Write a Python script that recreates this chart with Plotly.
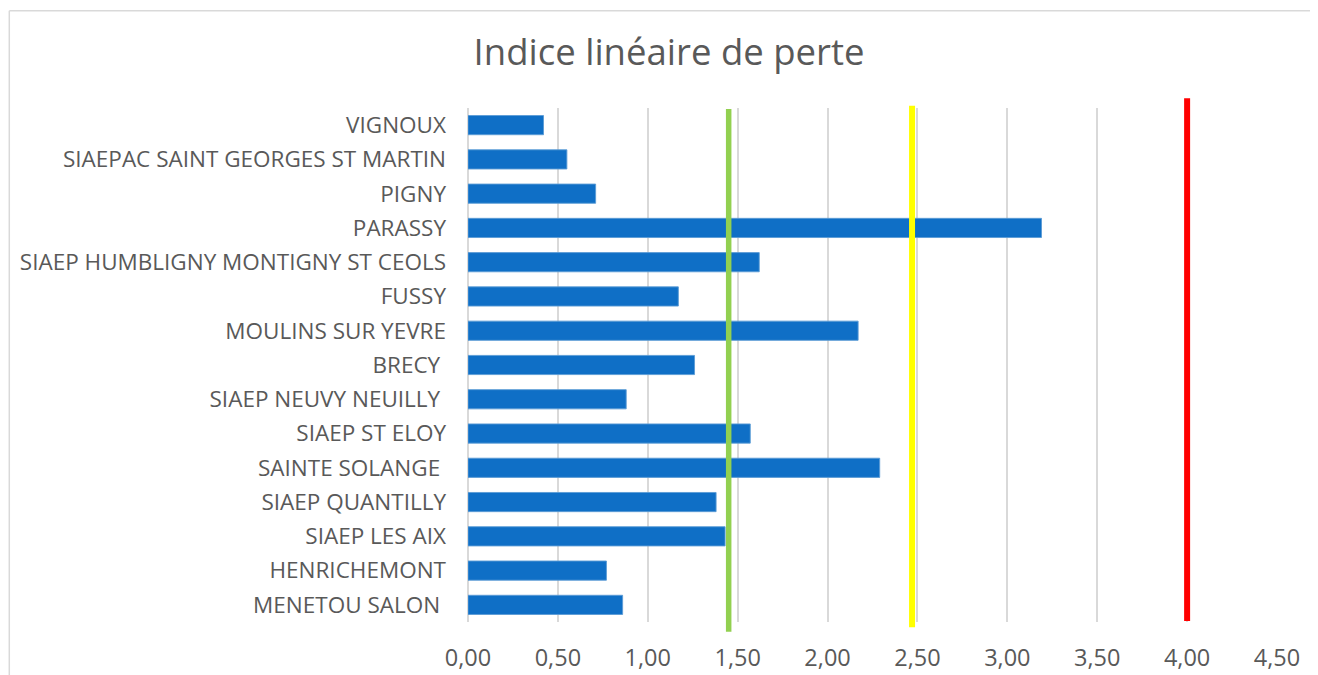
import plotly.graph_objects as go

# ---- data ----
categories = [
    "VIGNOUX",
    "SIAEPAC SAINT GEORGES ST MARTIN",
    "PIGNY",
    "PARASSY",
    "SIAEP HUMBLIGNY MONTIGNY ST CEOLS",
    "FUSSY",
    "MOULINS SUR YEVRE",
    "BRECY\u00a0",
    "SIAEP NEUVY NEUILLY\u00a0",
    "SIAEP ST ELOY",
    "SAINTE SOLANGE\u00a0",
    "SIAEP QUANTILLY",
    "SIAEP LES AIX",
    "HENRICHEMONT",
    "MENETOU SALON\u00a0",
]
values = [0.42, 0.55, 0.71, 3.19, 1.62, 1.17, 2.17, 1.26, 0.88, 1.57, 2.29, 1.38, 1.43, 0.77, 0.86]

threshold_values = [1.45, 2.47, 4.00]
threshold_colors = ["#92D050", "#FFFF00", "#FF0000"]

tick_values = [0, 0.5, 1, 1.5, 2, 2.5, 3, 3.5, 4, 4.5]

TITLE = "Indice linéaire de perte"

# ---- styles (positions in paper units) ----
threshold_y0 = [-0.019, -0.010, 0.002]
threshold_y1 = [0.998, 1.0045, 1.019]
threshold_w = [5.5, 6, 6]

FONT = "Open Sans"
TXT = "#595959"

fig = go.Figure()
fig.add_trace(go.Bar(
    x=values, y=categories, orientation="h",
    marker=dict(color="#0F6FC6", line=dict(color="rgba(91,155,213,0.9)", width=1)),
    hoverinfo="x+y",
))

for v, c, y0, y1, w in zip(threshold_values, threshold_colors, threshold_y0, threshold_y1, threshold_w):
    fig.add_shape(type="line", xref="x", yref="paper", x0=v, x1=v, y0=y0, y1=y1,
                  line=dict(color=c, width=w), layer="above")

# chart frame (top and left edges visible)
fig.add_shape(type="line", xref="paper", yref="paper", x0=-0.567, x1=1.06, y0=1.189, y1=1.189,
              line=dict(color="#D9D9D9", width=1.5))
fig.add_shape(type="line", xref="paper", yref="paper", x0=-0.567, x1=-0.567, y0=1.189, y1=-0.15,
              line=dict(color="#D9D9D9", width=1.5))

# the page body adds an 8px margin, so the figure is 8px smaller on each axis
fig.update_layout(
    width=1310, height=667,
    margin=dict(l=460, r=41, t=100, b=53, autoexpand=False),
    paper_bgcolor="white", plot_bgcolor="white",
    separators=", ",
    bargap=0.44,
    showlegend=False,
    font=dict(family=FONT, color=TXT),
    title=dict(text=TITLE, x=0.5046, xanchor="center", y=0.933, yanchor="middle",
               font=dict(family=FONT, size=36.5, color=TXT)),
    xaxis=dict(range=[0, 4.5], tickvals=tick_values, tickformat=".2f",
               showgrid=True, gridcolor="#D9D9D9", gridwidth=1.5,
               zeroline=True, zerolinecolor="#D9D9D9", zerolinewidth=1.5,
               showline=False, ticks="", ticklabelstandoff=19, automargin=False,
               tickfont=dict(family=FONT, size=23.5, color=TXT)),
    yaxis=dict(autorange="reversed", showgrid=False, zeroline=False, showline=False,
               ticks="", ticklabelstandoff=21, automargin=False,
               tickfont=dict(family=FONT, size=22.5, color=TXT)),
)

fig.write_html("out.html")
